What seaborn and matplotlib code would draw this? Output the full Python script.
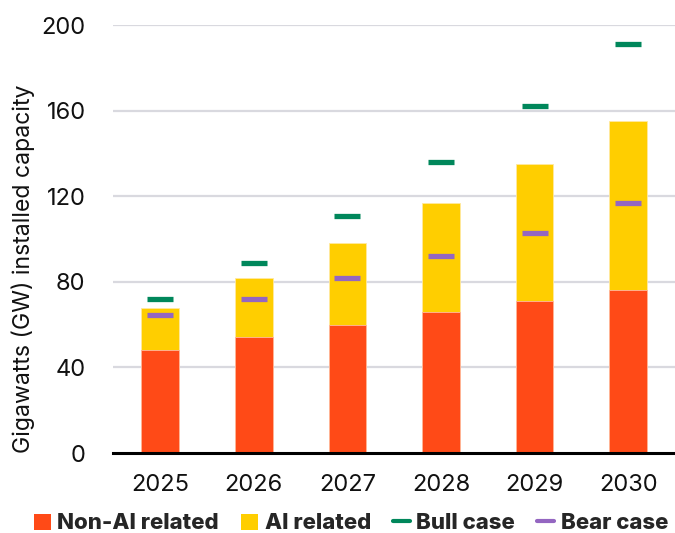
import numpy as np
import pandas as pd
import seaborn as sns
import matplotlib.pyplot as plt
from matplotlib.patches import Patch
from matplotlib.lines import Line2D

# Installed data-centre capacity, GW
years = ["2025", "2026", "2027", "2028", "2029", "2030"]
non_ai = [48, 54, 60, 66, 71, 76]
ai_related = [20, 28, 38, 51, 64, 79]
bull_case = [72, 89, 111, 136, 162, 191]
bear_case = [64.5, 72, 82, 92, 103, 117]
y_ticks = [0, 40, 80, 120, 160, 200]

C_NONAI = "#FF4A17"
C_AI = "#FFCE00"
C_BULL = "#00875B"
C_BEAR = "#9466C1"
C_GRID = "#D9D9DF"

sns.set_theme(style="white")
plt.rcParams["font.family"] = ["Inter", "DejaVu Sans"]

df = pd.DataFrame({
    "year": years,
    "non_ai": non_ai,
    "ai": ai_related,
    "bull": bull_case,
    "bear": bear_case,
})
df["total"] = df["non_ai"] + df["ai"]
df["pos"] = np.arange(len(years))

fig = plt.figure(figsize=(6.75, 5.33), dpi=100)
ax = fig.add_axes([0.168, 0.150, 0.832, 0.803])

# Stacked bars: full total in yellow, non-AI share over it
sns.barplot(data=df, x="year", y="total", color=C_AI, width=0.4,
            saturation=1, edgecolor="#FFE9A0", linewidth=0.6, ax=ax, zorder=2)
sns.barplot(data=df, x="year", y="non_ai", color=C_NONAI, width=0.4,
            saturation=1, edgecolor="#FFB9A0", linewidth=0.6, ax=ax, zorder=3)

# Scenario markers
sns.scatterplot(data=df, x="pos", y="bull", marker="_", s=330, linewidth=3.8,
                color=C_BULL, ax=ax, zorder=4, legend=False)
sns.scatterplot(data=df, x="pos", y="bear", marker="_", s=330, linewidth=3.8,
                color=C_BEAR, ax=ax, zorder=4, legend=False)

ax.set_xlim(-0.5, len(years) - 0.5)
ax.set_ylim(0, 200)
ax.set_yticks(y_ticks)
ax.set_yticklabels([str(t) for t in y_ticks], fontsize=17, color="#111111")
ax.tick_params(axis="y", length=0, pad=20)

ax.set_xticks(range(len(years)))
ax.set_xticklabels(years, fontsize=17, color="#111111")
ax.set_xticks(np.arange(-0.5, len(years)), minor=True)
ax.tick_params(axis="x", which="major", length=0, pad=15)
ax.tick_params(axis="x", which="minor", length=6, width=2.2, color="black",
               direction="out")

ax.set_xlabel("")
ax.set_ylabel("Gigawatts (GW) installed capacity", fontsize=16.6,
              color="#111111")
ax.yaxis.set_label_coords(-0.14, 0.43)

for y in y_ticks[1:]:
    ax.axhline(y, color=C_GRID, linewidth=1.6, zorder=0)

for side in ["left", "right", "top"]:
    ax.spines[side].set_visible(False)
ax.spines["bottom"].set_color("black")
ax.spines["bottom"].set_linewidth(2.2)
ax.spines["bottom"].set_zorder(5)

handles = [
    Patch(facecolor=C_NONAI, edgecolor="none", label="Non-AI related"),
    Patch(facecolor=C_AI, edgecolor="none", label="AI related"),
    Line2D([0], [0], color=C_BULL, linewidth=3, label="Bull case"),
    Line2D([0], [0], color=C_BEAR, linewidth=3, label="Bear case"),
]
fig.legend(handles=handles, loc="center", bbox_to_anchor=(0.52, 0.018),
           ncol=4, frameon=False, handlelength=0.75, handleheight=0.75,
           handletextpad=0.3, columnspacing=1.0,
           prop={"weight": "heavy", "size": 16})

fig.savefig("out.png", dpi=100)
